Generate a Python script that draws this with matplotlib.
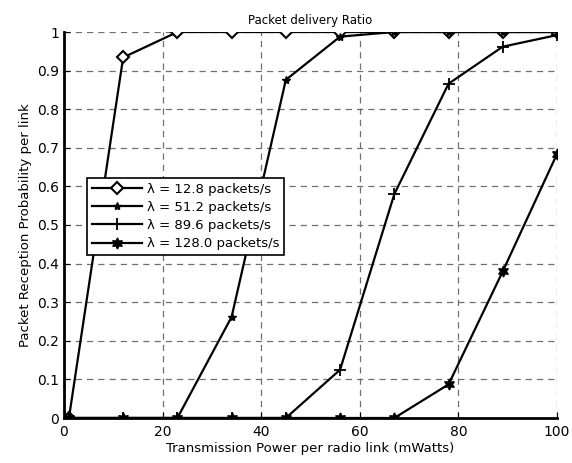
import matplotlib
matplotlib.use("Agg")
import matplotlib.pyplot as plt

power = [1, 12, 23, 34, 45, 56, 67, 78, 89, 100]

ratio_12_8 = [0, 0.934, 1, 1, 1, 1, 1, 1, 1, 1]
ratio_51_2 = [0, 0, 0, 0.262, 0.876, 0.988, 1, 1, 1, 1]
ratio_89_6 = [0, 0, 0, 0, 0, 0.125, 0.58, 0.866, 0.962, 0.992]
ratio_128_0 = [0, 0, 0, 0, 0, 0, 0, 0.087, 0.38, 0.684]

labels = [u"\u03bb = 12.8 packets/s",
          u"\u03bb = 51.2 packets/s",
          u"\u03bb = 89.6 packets/s",
          u"\u03bb = 128.0 packets/s"]

plt.rcParams['font.family'] = ['DejaVu Sans']

fig = plt.figure(figsize=(5.72, 4.63), dpi=100)
ax = fig.add_axes([64 / 572, 45 / 463, 493 / 572, 386 / 463])

ax.plot(power, ratio_12_8, 'k-', marker='D', markerfacecolor='white',
        markeredgewidth=1.5, markersize=6, linewidth=1.6, label=labels[0], zorder=3)
ax.plot(power, ratio_51_2, 'k-', marker='*', markersize=6, linewidth=1.6,
        label=labels[1], zorder=3)
ax.plot(power, ratio_89_6, 'k-', marker='+', markersize=8, markeredgewidth=1.3,
        linewidth=1.6, label=labels[2], zorder=3)
# six-pointed star (hexagram)
ax.plot(power, ratio_128_0, 'k-', marker=(6, 1, 0), markersize=8, linewidth=1.6,
        label=labels[3], zorder=3)

ax.set_xlim(0, 100)
ax.set_ylim(0, 1)
ax.set_xticks([0, 20, 40, 60, 80, 100])
ax.set_yticks([i / 10 for i in range(11)])
ax.set_yticklabels(['0', '0.1', '0.2', '0.3', '0.4', '0.5', '0.6', '0.7', '0.8', '0.9', '1'])
ax.grid(True, linestyle=(0, (5, 4)), color='#707070', linewidth=0.9)
ax.tick_params(direction='in', length=4, labelsize=10)
ax.tick_params(axis='x', pad=5)
ax.spines['top'].set_visible(False)
ax.spines['right'].set_visible(False)
ax.spines['left'].set_linewidth(2)
ax.spines['bottom'].set_linewidth(2)

ax.set_xlabel("Transmission Power per radio link (mWatts)", fontsize=9.5, labelpad=2)
ax.set_ylabel("Packet Reception Probability per link", fontsize=9.5, labelpad=4)
ax.set_title("Packet delivery Ratio", fontsize=8.5, pad=6)

leg = ax.legend(loc='upper left', bbox_to_anchor=(0.047, 0.622), borderaxespad=0,
                fontsize=9.5, fancybox=False, edgecolor='black', framealpha=1,
                handlelength=3.8, labelspacing=0.4, borderpad=0.35, handletextpad=0.4)
leg.get_frame().set_linewidth(1.2)

fig.savefig("out.png", dpi=100)
